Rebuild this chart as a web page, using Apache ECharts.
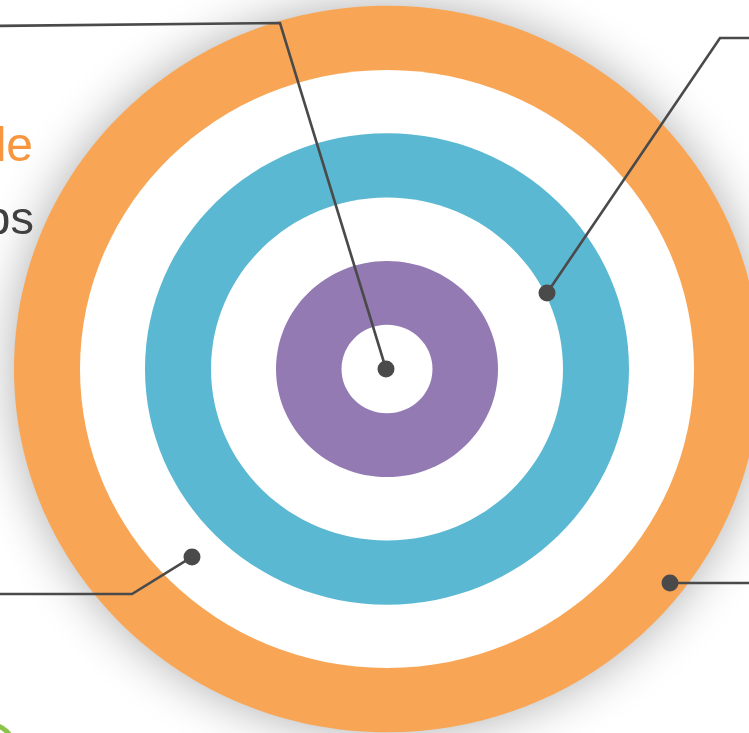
<!DOCTYPE html>
<html><head><meta charset="utf-8">
<script src="https://cdn.jsdelivr.net/npm/echarts@6/dist/echarts.min.js"></script>
<style>html,body{margin:0;padding:0;background:#ffffff;} #c{width:749px;height:733px;}</style>
</head><body><div id="c"></div>
<script>
// ---- data ----
const ringNames = ['Outer ring', 'Outer gap', 'Middle ring', 'Middle gap', 'Inner ring', 'Core'];
const ringRadius = [373, 307, 242, 176, 111, 45.5];
const markerNames = ['Core', 'Middle', 'Gap', 'Outer'];
const markerX = [-1, 160, -195, 283];
const markerY = [0, 78, -193, -219.7];
const leaderX = [[-1, -107, -397], [160, 333, 373], [-195, -255, -397], [283, 373]];
const leaderY = [[0, 355.2, 352.2], [78, 339.8, 339.8], [-193, -231, -231], [-219.7, -219.7]];
const headline = 'Title';
const subline = 'Steps';

// ---- styles ----
const ringColors = ['#F8A656', '#FFFFFF', '#5BB8D2', '#FFFFFF', '#937AB3', '#FFFFFF'];

const chart = echarts.init(document.getElementById('c'));
chart.setOption({
  backgroundColor: '#ffffff',
  animation: false,
  grid: {left: 0, right: 0, top: 0, bottom: 0, containLabel: false},
  xAxis: {type: 'value', min: -387, max: 362, show: false},
  yAxis: {type: 'value', min: -373.72, max: 378.85, show: false},
  graphic: [
    {type: 'text', x: 33, y: 148, z: 10, style: {text: headline, fill: '#F7963F', font: '48px "Liberation Sans", Arial, sans-serif', align: 'right', verticalAlign: 'middle'}},
    {type: 'text', x: 34, y: 221, z: 10, style: {text: subline, fill: '#404040', font: '47px "Liberation Sans", Arial, sans-serif', align: 'right', verticalAlign: 'middle'}},
    {type: 'circle', shape: {cx: -10, cy: 748, r: 23.5}, z: 10, style: {fill: 'none', stroke: '#8CC34A', lineWidth: 5}}
  ],
  series: [
    {
      type: 'custom',
      name: 'rings',
      clip: false,
      z: 1,
      data: ringRadius.map((r, i) => ({name: ringNames[i], value: [0, 0, r]})),
      renderItem: function (params, api) {
        const c = api.coord([api.value(0), api.value(1)]);
        const r = api.value(2);
        const s = api.size([r, r]);
        const i = params.dataIndex;
        return {
          type: 'ellipse',
          shape: {cx: c[0], cy: c[1], rx: s[0], ry: s[1]},
          style: {fill: ringColors[i], shadowBlur: i === 0 ? 50 : 0, shadowColor: 'rgba(0,0,0,0.32)'}
        };
      }
    },
    {
      type: 'lines',
      coordinateSystem: 'cartesian2d',
      polyline: true,
      z: 3,
      lineStyle: {color: '#4A4A4A', width: 2.6, opacity: 1},
      data: leaderX.map((xs, i) => ({coords: xs.map((x, j) => [x, leaderY[i][j]])}))
    },
    {
      type: 'scatter',
      z: 4,
      symbolSize: 17,
      itemStyle: {color: '#4A4A4A', opacity: 1},
      data: markerX.map((x, i) => ({name: markerNames[i], value: [x, markerY[i]]}))
    }
  ]
});
</script></body></html>
